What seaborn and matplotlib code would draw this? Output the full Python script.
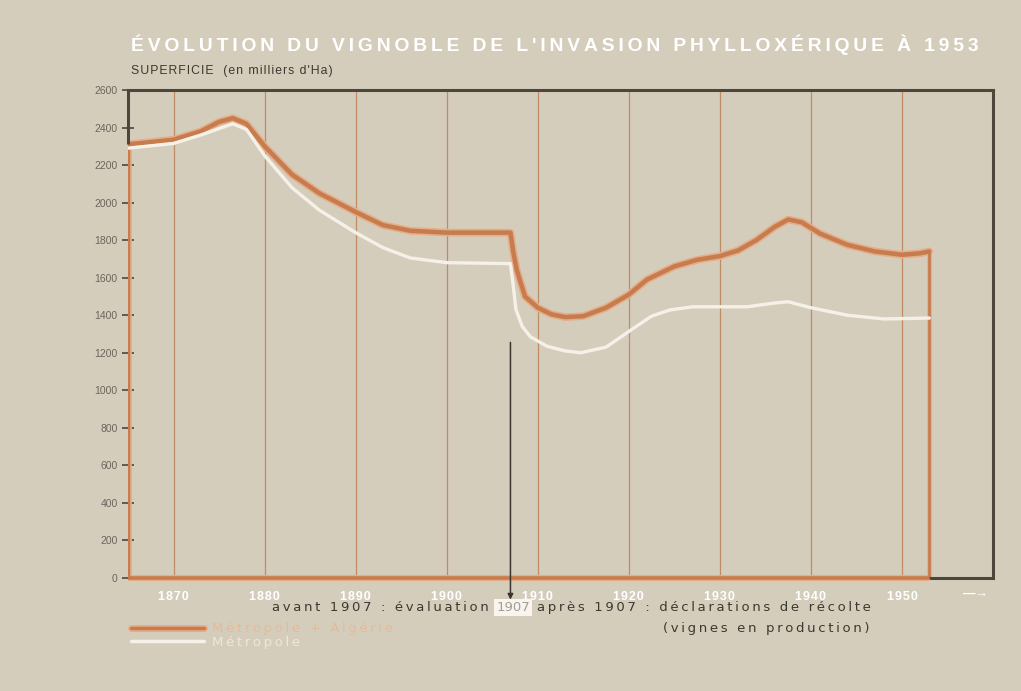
import numpy as np
import pandas as pd
import matplotlib
matplotlib.use("Agg")
import matplotlib.pyplot as plt
import seaborn as sns

# superficie du vignoble, milliers d'ha
years_ma = [1865, 1870, 1873, 1875, 1876.5, 1878, 1880, 1883, 1886, 1890, 1893, 1896, 1900, 1907,
            1907.3, 1907.7, 1908.6, 1910, 1911.5, 1913, 1915, 1917.5, 1920, 1922, 1925, 1927.5,
            1930, 1932, 1934, 1936, 1937.5, 1939, 1941, 1944, 1947, 1950, 1952, 1953]
surf_ma = [2310, 2335, 2380, 2430, 2450, 2420, 2300, 2150, 2050, 1950, 1880, 1850, 1840, 1840,
           1740, 1640, 1500, 1440, 1405, 1390, 1395, 1440, 1510, 1590, 1660, 1695,
           1715, 1745, 1800, 1870, 1910, 1895, 1835, 1775, 1740, 1722, 1730, 1740]

years_m = [1865, 1870, 1873, 1876.5, 1878, 1880, 1883, 1886, 1890, 1893, 1896, 1900, 1907,
           1907.3, 1907.6, 1908.3, 1909.2, 1911, 1913, 1914.7, 1917.5, 1920.5, 1922.5, 1924.5,
           1927, 1933, 1936, 1937.5, 1940, 1944, 1948, 1953]
surf_m = [2290, 2315, 2360, 2420, 2390, 2250, 2080, 1960, 1840, 1760, 1705, 1680, 1675,
          1560, 1430, 1340, 1285, 1235, 1210, 1200, 1230, 1330, 1395, 1428,
          1445, 1445, 1465, 1472, 1440, 1400, 1380, 1385]

decades = [1870, 1880, 1890, 1900, 1910, 1920, 1930, 1940, 1950]
y_ticks = list(range(0, 2601, 200))

df_ma = pd.DataFrame({"annee": years_ma, "superficie": surf_ma})
df_m = pd.DataFrame({"annee": years_m, "superficie": surf_m})

bg = "#d5cdbc"
orange = "#c67c4e"
halo = "#e6ad86"
white = "#f6f1e8"
dark = "#4c463d"
grid_c = "#bf8c64"
txt = "#3d3830"


def spaced(s, sep="\u2009"):
    # espacement large des lettres, comme sur l'imprimé
    return sep.join(s)


sns.set_theme(style="white", rc={"figure.facecolor": bg, "axes.facecolor": bg})
plt.rcParams["font.family"] = ["Liberation Sans", "DejaVu Sans"]
note_font = ["DejaVu Sans"]

fig = plt.figure(figsize=(10.21, 6.91), dpi=100)
ax = fig.add_axes([0.1254, 0.1635, 0.8472, 0.7063])

ax.set_xlim(1865, 1960)
ax.set_ylim(0, 2600)

# lignes verticales des décennies
for d in decades:
    ax.axvline(d, color=grid_c, lw=0.9, zorder=1)

# courbe Métropole + Algérie, fermée sur les axes
x0, x1 = years_ma[0], years_ma[-1]
for c, w in [(halo, 5.5), (orange, 3.2)]:
    sns.lineplot(data=df_ma, x="annee", y="superficie", sort=False, ax=ax,
                 color=c, lw=w, zorder=4, estimator=None)
    ax.vlines([x0], 0, surf_ma[0], color=c, lw=w, zorder=4)
    ax.vlines([x1], 0, surf_ma[-1], color=c, lw=w * 0.6, zorder=4)
    ax.hlines(0, x0, x1, color=c, lw=w * 0.8, zorder=4, clip_on=False)

# courbe Métropole
sns.lineplot(data=df_m, x="annee", y="superficie", sort=False, ax=ax,
             color=white, lw=2.4, zorder=5, estimator=None)

# cadre sombre
for s in ["left", "bottom"]:
    ax.spines[s].set_visible(False)
for s in ["top", "right"]:
    ax.spines[s].set_color(dark)
    ax.spines[s].set_linewidth(2.2)
ax.vlines([x0], surf_ma[0], 2600, color=dark, lw=2.2, zorder=6, clip_on=False)
ax.hlines(0, x1, 1960, color=dark, lw=2.2, zorder=6, clip_on=False)

ax.set_yticks(y_ticks)
ax.set_yticklabels([str(v) for v in y_ticks], fontsize=7.5, color="#6b655c")
ax.tick_params(axis="y", direction="inout", length=9, width=1.2, color=dark, pad=3, left=True)
ax.set_xticks(decades)
ax.set_xticklabels([spaced(str(d), "\u200a") for d in decades], fontsize=9,
                   color="white", fontweight="bold")
ax.tick_params(axis="x", length=0, pad=9)
ax.set_xlabel("")
ax.set_ylabel("")
ax.text(1959.5, -85, "—→", color="white", fontsize=9, ha="right", va="center",
        fontweight="bold", clip_on=False)

# flèche 1907
ax.annotate("", xy=(1907, -130), xytext=(1907, 1270),
            arrowprops=dict(arrowstyle="-|>", color="#3a352e", lw=1.1, mutation_scale=8),
            annotation_clip=False, zorder=7)

# titres
fig.text(0.128, 0.935, spaced("ÉVOLUTION DU VIGNOBLE DE L'INVASION PHYLLOXÉRIQUE À 1953"),
         color="white", fontsize=13.9, fontweight="bold", ha="left", va="center")
fig.text(0.128, 0.897, spaced("SUPERFICIE  (en milliers d'Ha)", "\u200a"), color=txt,
         fontsize=8.8, ha="left", va="center")

# notes et légende
fig.text(0.479, 0.121, spaced("avant 1907 : évaluation"), color=txt, fontsize=9.5,
         family=note_font, ha="right", va="center")
fig.text(0.5025, 0.121, "1907", color="#a49e94", fontsize=9.5, family=note_font,
         ha="center", va="center",
         bbox=dict(boxstyle="square,pad=0.15", fc="#f8f5ef", ec="none"))
fig.text(0.526, 0.121, spaced("après 1907 : déclarations de récolte"), color=txt, fontsize=9.5,
         family=note_font, ha="left", va="center")
fig.text(0.852, 0.091, spaced("(vignes en production)"), color=txt, fontsize=9.5,
         family=note_font, ha="right", va="center")

fig.lines.append(plt.Line2D([0.128, 0.2], [0.091, 0.091], transform=fig.transFigure,
                            color=halo, lw=5))
fig.lines.append(plt.Line2D([0.128, 0.2], [0.091, 0.091], transform=fig.transFigure,
                            color=orange, lw=2.5))
fig.lines.append(plt.Line2D([0.128, 0.2], [0.072, 0.072], transform=fig.transFigure,
                            color=white, lw=2.5))
fig.text(0.208, 0.091, spaced("Métropole + Algérie"), color="#e4bb9a", fontsize=9.5,
         family=note_font, ha="left", va="center")
fig.text(0.208, 0.070, spaced("Métropole"), color="#eee6da", fontsize=9.5,
         family=note_font, ha="left", va="center")

plt.savefig("out.png", dpi=100, facecolor=bg)
